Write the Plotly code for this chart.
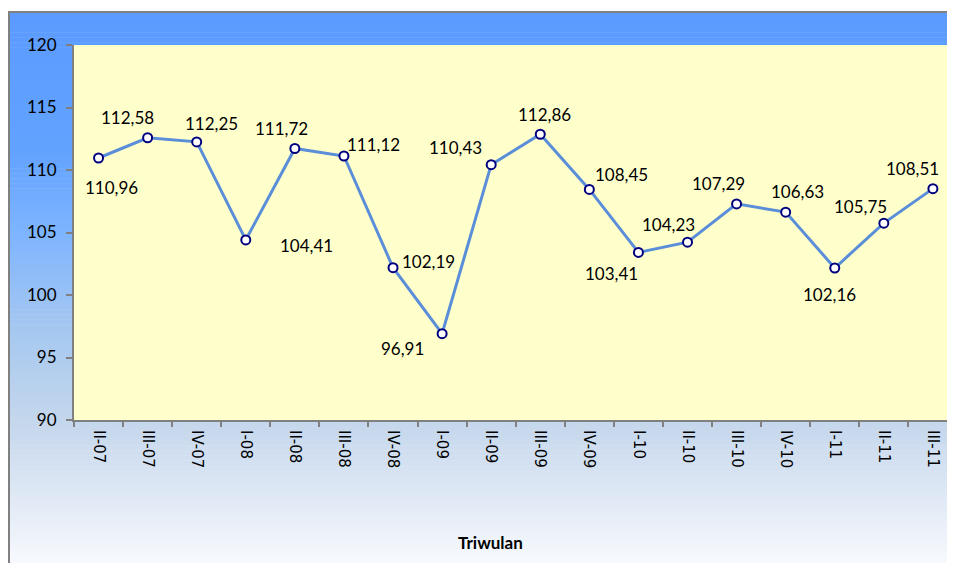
import plotly.graph_objects as go

quarters = ["II-07", "III-07", "IV-07", "I-08", "II-08", "III-08", "IV-08", "I-09", "II-09",
            "III-09", "IV-09", "I-10", "II-10", "III-10", "IV-10", "I-11", "II-11", "III-11"]
values = [110.96, 112.58, 112.25, 104.41, 111.72, 111.12, 102.19, 96.91, 110.43,
          112.86, 108.45, 103.41, 104.23, 107.29, 106.63, 102.16, 105.75, 108.51]
labels = ["110,96", "112,58", "112,25", "104,41", "111,72", "111,12", "102,19", "96,91", "110,43",
          "112,86", "108,45", "103,41", "104,23", "107,29", "106,63", "102,16", "105,75", "108,51"]
# label offsets in pixels (dx right, dy down)
label_dx = [13, -20, 15, 61, -13, 30, 35, -40, -36, 4, 32, -27, -19, -18, 12, -5, -23, -20]
label_dy = [29, -20, -18, 6, -20, -12, -6, 15, -17, -20, -15, 21, -18, -20, -21, 26, -17, -20]

# page body has an 8px margin: figure origin sits at screen (8, 8)
OFF = 8
W, H = 955 - OFF, 563 - OFF
L, T = 74 - OFF, 45 - OFF
PLOT_BOTTOM = 420 - OFF
B = H - PLOT_BOTTOM
plot_w = W - L
plot_h = PLOT_BOTTOM - T

def sx(px):  # screen x -> paper x
    return (px - OFF - L) / plot_w

def sy(py):  # screen y -> paper y
    return (PLOT_BOTTOM - (py - OFF)) / plot_h

# gradient stops (screen pixel y, rgb)
stops = [(12, (91, 155, 255)), (150, (98, 162, 255)), (230, (125, 180, 255)),
         (330, (165, 200, 240)), (420, (196, 214, 236)), (563, (247, 249, 253))]

def color_at(py):
    for (y0, c0), (y1, c1) in zip(stops[:-1], stops[1:]):
        if y0 <= py <= y1:
            t = (py - y0) / (y1 - y0)
            return "rgb(%d,%d,%d)" % tuple(round(a + (b - a) * t) for a, b in zip(c0, c1))
    return "rgb(%d,%d,%d)" % stops[-1][1]

shapes = []
n = 110
top, bot = 12, 566
for i in range(n):
    y0 = top + (bot - top) * i / n
    y1 = top + (bot - top) * (i + 1) / n
    shapes.append(dict(type="rect", xref="paper", yref="paper",
                       x0=sx(8), x1=sx(960),
                       y0=sy(y1 + 0.6), y1=sy(y0),
                       fillcolor=color_at((y0 + y1) / 2), line=dict(width=0), layer="below"))
# plot area
shapes.append(dict(type="rect", xref="paper", yref="paper", x0=0, x1=1.01, y0=0, y1=1,
                   fillcolor="#FFFFCC", line=dict(width=0), layer="below"))
# outer border
shapes.append(dict(type="path", xref="paper", yref="paper",
                   path="M %f %f L %f %f L %f %f" % (sx(9), sy(570), sx(9), sy(12), sx(960), sy(12)),
                   line=dict(color="#808080", width=2), layer="below"))

fig = go.Figure()
fig.add_trace(go.Scatter(
    x=quarters, y=values, mode="lines+markers",
    line=dict(color="#5B8ED8", width=3),
    marker=dict(size=9, color="white", line=dict(color="#00007F", width=2)),
    hoverinfo="x+y", showlegend=False, cliponaxis=False))

annotations = []
for q, v, lab, dx, dy in zip(quarters, values, labels, label_dx, label_dy):
    annotations.append(dict(x=q, y=v, xref="x", yref="y", text=lab, showarrow=False,
                            xshift=dx, yshift=-dy,
                            font=dict(family="Lato, Carlito, sans-serif", size=17, color="black")))
annotations.append(dict(x=sx(490), y=sy(542), xref="paper", yref="paper",
                        xanchor="center", yanchor="middle",
                        text="<b>Triwulan</b>", showarrow=False,
                        font=dict(family="Lato, sans-serif", size=17, color="black")))

fig.update_layout(
    width=W, height=H,
    margin=dict(l=L, r=0, t=T, b=B, pad=0),
    paper_bgcolor="white", plot_bgcolor="rgba(0,0,0,0)",
    shapes=shapes, annotations=annotations,
    xaxis=dict(type="category", range=[-0.5, 17.45], tickangle=90, tickson="boundaries",
               ticks="outside", ticklen=5, tickwidth=2, tickcolor="#808080",
               showline=True, linecolor="#808080", linewidth=2, showgrid=False, zeroline=False,
               ticklabelstandoff=5,
               tickfont=dict(family="DejaVu Sans, sans-serif", size=15, color="black")),
    yaxis=dict(range=[90, 120], dtick=5, ticks="outside", ticklen=6, tickwidth=2,
               tickcolor="#808080", showline=True, linecolor="#808080", linewidth=2,
               showgrid=False, zeroline=False, ticklabelstandoff=6,
               tickfont=dict(family="Lato, sans-serif", size=17, color="black")),
)

fig.write_html("out.html")
